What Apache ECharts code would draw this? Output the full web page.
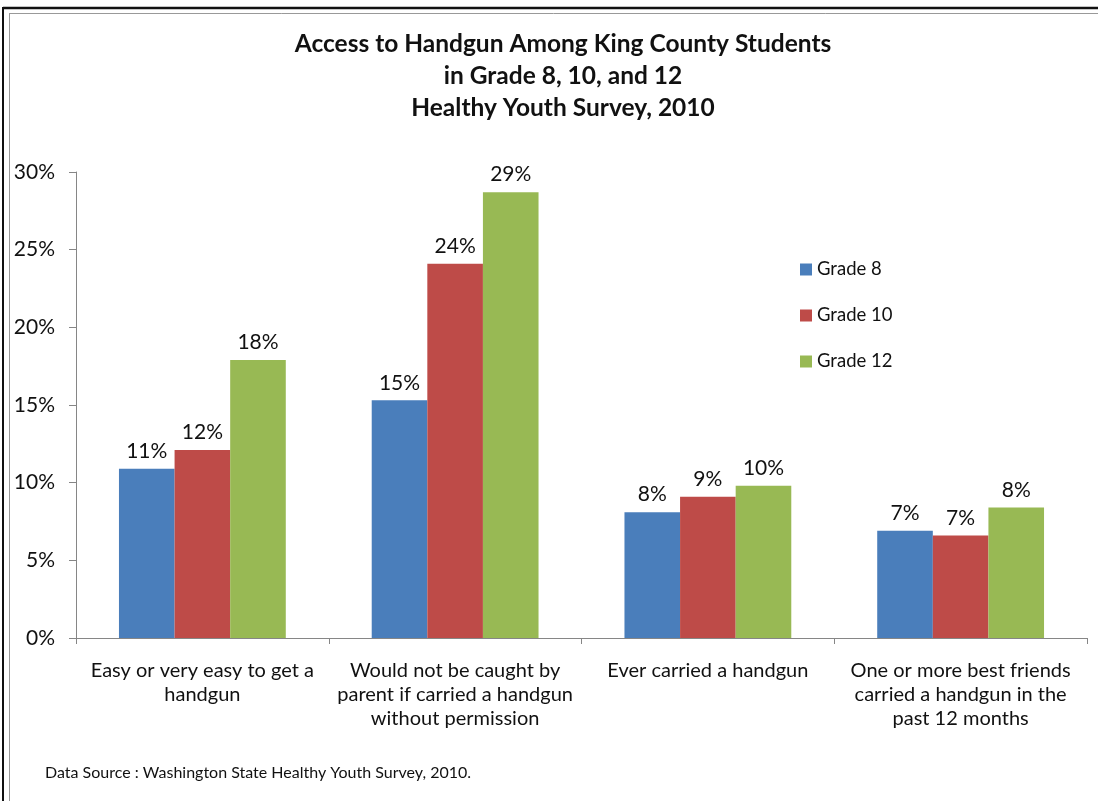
<!DOCTYPE html>
<html>
<head>
<meta charset="utf-8">
<script src="https://cdn.jsdelivr.net/npm/echarts@6/dist/echarts.min.js"></script>
<style>
  html, body { margin: 0; padding: 0; background: #fff; }
  #chart { width: 1098px; height: 801px; }
</style>
</head>
<body>
<div id="chart"></div>
<script>
// Survey questions (x-axis categories)
const categories = [
  'Easy or very easy to get a\nhandgun',
  'Would not be caught by\nparent if carried a handgun\nwithout permission',
  'Ever carried a handgun',
  'One or more best friends\ncarried a handgun in the\npast 12 months'
];

// Percent of students answering yes, by grade
const grade8 = [10.9, 15.3, 8.1, 6.9];
const grade10 = [12.1, 24.1, 9.1, 6.6];
const grade12 = [17.9, 28.7, 9.8, 8.4];

const seriesNames = ['Grade 8', 'Grade 10', 'Grade 12'];
const seriesColors = ['#4A7EBB', '#BE4B48', '#98B954'];

const titleText = 'Access to Handgun Among King County Students\nin Grade 8, 10, and 12\nHealthy Youth Survey, 2010';
const sourceText = 'Data Source : Washington State Healthy Youth Survey, 2010.';

const FONT = 'Lato, "Open Sans", sans-serif';

const chart = echarts.init(document.getElementById('chart'));

function barSeries(name, data, color) {
  return {
    name: name,
    type: 'bar',
    data: data,
    barGap: '0%',
    barCategoryGap: '34%',
    itemStyle: { color: color },
    label: {
      show: true,
      position: 'top',
      distance: 7,
      color: '#111',
      fontFamily: FONT,
      fontSize: 21,
      formatter: p => Math.round(p.value) + '%'
    }
  };
}

chart.setOption({
  animation: false,
  backgroundColor: '#fff',
  textStyle: { fontFamily: FONT },
  title: {
    text: titleText,
    left: 558,
    top: 23,
    textAlign: 'center',
    textStyle: {
      fontFamily: FONT,
      fontWeight: 'bold',
      fontSize: 24.5,
      lineHeight: 32,
      color: '#111'
    }
  },
  legend: {
    orient: 'vertical',
    left: 795,
    top: 255,
    itemWidth: 12,
    itemHeight: 12,
    itemGap: 27,
    icon: 'rect',
    data: seriesNames,
    textStyle: { fontFamily: FONT, fontSize: 18.5, color: '#111' }
  },
  grid: { left: 76, right: 11, top: 172, bottom: 163, containLabel: false },
  xAxis: {
    type: 'category',
    data: categories,
    axisLine: { lineStyle: { color: '#868686', width: 1 } },
    axisTick: { show: true, length: 6, alignWithLabel: false, lineStyle: { color: '#868686' } },
    axisLabel: {
      interval: 0,
      margin: 21,
      color: '#111',
      fontFamily: FONT,
      fontSize: 20,
      lineHeight: 24,
      align: 'center'
    }
  },
  yAxis: {
    type: 'value',
    min: 0,
    max: 30,
    interval: 5,
    axisLine: { show: true, lineStyle: { color: '#868686', width: 1 } },
    axisTick: { show: true, length: 7, lineStyle: { color: '#868686' } },
    splitLine: { show: false },
    axisLabel: {
      formatter: '{value}%',
      margin: 21,
      color: '#111',
      fontFamily: FONT,
      fontSize: 21
    }
  },
  graphic: [
    // outer frame: dark rule with a lighter inner rule
    { type: 'line', shape: { x1: 3, y1: 8, x2: 1098, y2: 8 }, style: { stroke: '#111', lineWidth: 2.5 } },
    { type: 'line', shape: { x1: 9, y1: 13.5, x2: 1098, y2: 13.5 }, style: { stroke: '#999', lineWidth: 1 } },
    { type: 'line', shape: { x1: 3, y1: 7, x2: 3, y2: 801 }, style: { stroke: '#111', lineWidth: 2 } },
    { type: 'line', shape: { x1: 9.5, y1: 13, x2: 9.5, y2: 801 }, style: { stroke: '#999', lineWidth: 1 } },
    {
      type: 'text',
      left: 45,
      top: 765,
      style: { text: sourceText, fontFamily: FONT, fontSize: 16, fill: '#111' }
    }
  ],
  series: [
    barSeries(seriesNames[0], grade8, seriesColors[0]),
    barSeries(seriesNames[1], grade10, seriesColors[1]),
    barSeries(seriesNames[2], grade12, seriesColors[2])
  ]
});
</script>
</body>
</html>
